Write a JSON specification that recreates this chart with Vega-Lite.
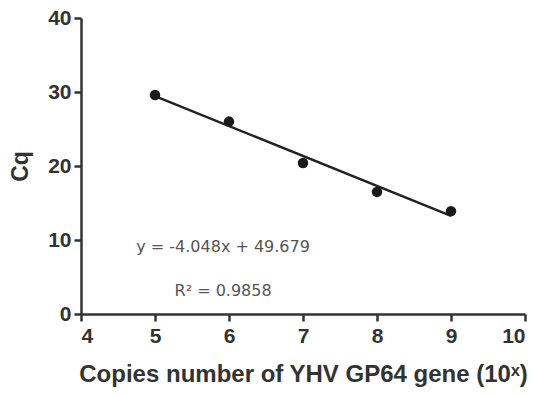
{
  "$schema": "https://vega.github.io/schema/vega-lite/v6.json",
  "width": 444,
  "height": 296,
  "autosize": "none",
  "padding": {"left": 81, "top": 18, "right": 14, "bottom": 81},
  "background": "white",
  "config": {"view": {"stroke": null}, "font": "Liberation Sans"},
  "datasets": {
    "pts": [
      {"x": 5, "cq": 29.6},
      {"x": 6, "cq": 26.0},
      {"x": 7, "cq": 20.4},
      {"x": 8, "cq": 16.5},
      {"x": 9, "cq": 13.9}
    ],
    "fit": [
      {"x": 5, "cq": 29.44},
      {"x": 9, "cq": 13.25}
    ],
    "notes": [
      {"x": 5.92, "cq": 9.0, "label": "y = -4.048x + 49.679"},
      {"x": 5.92, "cq": 3.1, "label": "R² = 0.9858"}
    ]
  },
  "layer": [
    {
      "data": {"name": "fit"},
      "mark": {"type": "line", "color": "#222", "strokeWidth": 2.5},
      "encoding": {
        "x": {"field": "x", "type": "quantitative", "scale": {"domain": [4, 10], "nice": false},
          "axis": {"values": [4,5,6,7,8,9,10], "format": "d", "title": "Copies number of YHV GP64 gene (10ˣ)", "grid": false,
            "domainColor": "#333", "domainWidth": 2.5, "tickColor": "#333", "tickWidth": 2.5, "tickSize": 7,
            "labelFont": "Liberation Sans", "labelFontSize": 21, "labelFontWeight": "bold", "labelColor": "#333", "labelPadding": 4,
            "titleFont": "Liberation Sans", "titleFontSize": 24, "titleFontWeight": "bold", "titleColor": "#333", "titlePadding": 16}},
        "y": {"field": "cq", "type": "quantitative", "scale": {"domain": [0, 40], "nice": false},
          "axis": {"values": [0,10,20,30,40], "format": "d", "title": "Cq", "grid": false,
            "domainColor": "#333", "domainWidth": 2.5, "tickColor": "#333", "tickWidth": 2.5, "tickSize": 7,
            "labelFont": "Liberation Sans", "labelFontSize": 21, "labelFontWeight": "bold", "labelColor": "#333", "labelPadding": 3,
            "titleFont": "Liberation Sans", "titleFontSize": 23, "titleFontWeight": "bold", "titleColor": "#333", "titlePadding": 15}}
      }
    },
    {
      "data": {"name": "pts"},
      "mark": {"type": "point", "filled": true, "color": "#1a1a1a", "size": 110, "opacity": 1},
      "encoding": {
        "x": {"field": "x", "type": "quantitative"},
        "y": {"field": "cq", "type": "quantitative"}
      }
    },
    {
      "data": {"name": "notes"},
      "mark": {"type": "text", "font": "DejaVu Sans", "fontSize": 16, "color": "#555", "align": "center", "baseline": "middle"},
      "encoding": {
        "x": {"field": "x", "type": "quantitative"},
        "y": {"field": "cq", "type": "quantitative"},
        "text": {"field": "label"}
      }
    }
  ]
}
